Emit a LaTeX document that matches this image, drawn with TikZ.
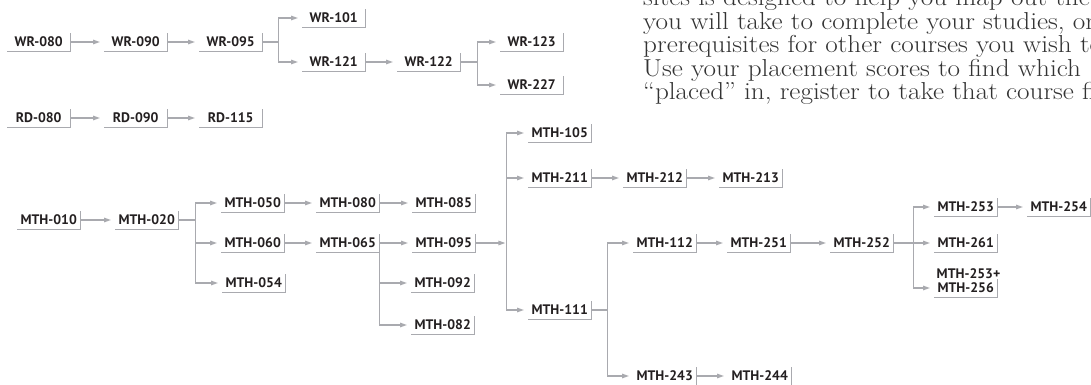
\documentclass[tikz,border=0pt]{standalone}
\usepackage{fontspec}
\setsansfont{PT Sans}
\usetikzlibrary{arrows.meta,calc}
\definecolor{rule}{HTML}{A9AAAF}
\definecolor{ink}{HTML}{231F20}
\definecolor{prose}{HTML}{333333}
\tikzset{
  coursefont/.style={font=\sffamily\bfseries\fontsize{13.8}{14}\selectfont, text=ink},
  course/.style={coursefont, anchor=west, minimum width=63pt, minimum height=18pt,
                 inner sep=0pt, text height=9.9pt, text depth=0pt},
  link/.style={draw=rule, line width=1.3pt},
  arrow/.style={link, -{Triangle[length=7pt,width=4.5pt]}, shorten >=4pt},
  proseline/.style={anchor=base west, inner sep=0pt, text=prose, transform shape,
                    font=\fontsize{24.5}{26}\selectfont},
}
\begin{document}
\begin{tikzpicture}[x=1pt,y=-1pt]
\useasboundingbox (0,0) rectangle (1091,385);
\clip (0,0) rectangle (1091,385);

% paragraph running along the top right, set a little wide
\begin{scope}[shift={(643,0)}, xscale=1.11]
\node[proseline] (p1) at (0,6)     {sites is designed to help you map out the};
\node[proseline] (p2) at (0,29.5)  {you will take to complete your studies, or};
\node[proseline] (p3) at (0,53)    {prerequisites for other courses you wish to};
\node[proseline] (p4) at (0,76.5)  {Use your placement scores to find which};
\node[proseline] (p5) at (0,100)   {“placed” in, register to take that course first};
\end{scope}

% writing sequence
\node[course] (wr080) at (7,42)   {WR-080};
\node[course] (wr090) at (104,42) {WR-090};
\node[course] (wr095) at (199,42) {WR-095};
\node[course] (wr101) at (302,18) {WR-101};
\node[course] (wr121) at (302,62) {WR-121};
\node[course] (wr122) at (397,62) {WR-122};
\node[course] (wr123) at (500,42) {WR-123};
\node[course] (wr227) at (500,85) {WR-227};

% reading sequence
\node[course] (rd080) at (7,118)   {RD-080};
\node[course] (rd090) at (104,118) {RD-090};
\node[course] (rd115) at (199,118) {RD-115};

% math sequence
\node[course] (mth010) at (17,220)  {MTH-010};
\node[course] (mth020) at (115,220) {MTH-020};
\node[course] (mth050) at (221,203) {MTH-050};
\node[course] (mth060) at (221,243) {MTH-060};
\node[course] (mth054) at (222,283) {MTH-054};
\node[course] (mth080) at (316,203) {MTH-080};
\node[course] (mth065) at (316,243) {MTH-065};
\node[course] (mth085) at (412,203) {MTH-085};
\node[course] (mth095) at (412,243) {MTH-095};
\node[course] (mth092) at (411,283) {MTH-092};
\node[course] (mth082) at (411,325) {MTH-082};
\node[course] (mth105) at (528,133) {MTH-105};
\node[course] (mth211) at (528,178) {MTH-211};
\node[course] (mth111) at (528,310) {MTH-111};
\node[course] (mth212) at (623,178) {MTH-212};
\node[course] (mth213) at (719,178) {MTH-213};
\node[course] (mth112) at (633,243) {MTH-112};
\node[course] (mth251) at (727,243) {MTH-251};
\node[course] (mth252) at (830,243) {MTH-252};
\node[course] (mth243) at (633,376) {MTH-243};
\node[course] (mth244) at (728,376) {MTH-244};
\node[course] (mth253) at (934,207) {MTH-253};
\node[course] (mth254) at (1027,207) {MTH-254};
\node[course] (mth261) at (934,243) {MTH-261};
\node[course] (mth256) at (934,288) {MTH-256};
\node[coursefont, anchor=base west, inner sep=0pt] (mth253p)
  at ([xshift=2.5pt,yshift=14pt]mth256.base west) {MTH-253+};

% underline and right bar of every course
\foreach \n in {wr080,wr090,wr095,wr101,wr121,wr122,wr123,wr227,
                rd080,rd090,rd115,
                mth010,mth020,mth050,mth060,mth054,mth080,mth065,mth085,mth095,
                mth092,mth082,mth105,mth211,mth111,mth212,mth213,mth112,mth251,
                mth252,mth243,mth244,mth253,mth254,mth261,mth256}
  \draw[link] (\n.south west) -- (\n.south east) -- (\n.north east);

% writing connectors
\draw[arrow] (wr080.east) -- (wr090.west);
\draw[arrow] (wr090.east) -- (wr095.west);
\draw[arrow] (wr095.east) -- ++(16,0) |- (wr101.west);
\draw[arrow] (wr095.east) -- ++(16,0) |- (wr121.west);
\draw[arrow] (wr121.east) -- (wr122.west);
\draw[arrow] (wr122.east) -- ++(17,0) |- (wr123.west);
\draw[arrow] (wr122.east) -- ++(17,0) |- (wr227.west);

% reading connectors
\draw[arrow] (rd080.east) -- (rd090.west);
\draw[arrow] (rd090.east) -- (rd115.west);

% math connectors
\draw[arrow] (mth010.east) -- (mth020.west);
\draw[arrow] (mth020.east) -- ++(17,0) |- (mth050.west);
\draw[arrow] (mth020.east) -- ++(17,0) |- (mth060.west);
\draw[arrow] (mth020.east) -- ++(17,0) |- (mth054.west);
\draw[arrow] (mth050.east) -- (mth080.west);
\draw[arrow] (mth080.east) -- (mth085.west);
\draw[arrow] (mth060.east) -- (mth065.west);
\draw[arrow] (mth065.east) -- (mth095.west);
\draw[link] (mth065.south east) -- (mth065.south east |- mth082.east);
\draw[arrow] (mth065.east |- mth092.west) -- (mth092.west);
\draw[arrow] (mth065.east |- mth082.west) -- (mth082.west);

\coordinate (hub) at ($(mth095.east)+(31,0)$);
\draw[arrow, shorten >=1pt] (mth095.east) -- (hub);
\draw[link] (hub |- mth105.west) -- (hub |- mth111.west);
\draw[arrow] (hub |- mth105.west) -- (mth105.west);
\draw[arrow] (hub |- mth211.west) -- (mth211.west);
\draw[arrow] (hub |- mth111.west) -- (mth111.west);

\draw[arrow] (mth211.east) -- (mth212.west);
\draw[arrow] (mth212.east) -- (mth213.west);
\draw[arrow] (mth111.east) -- ++(16,0) |- (mth112.west);
\draw[arrow] (mth111.east) -- ++(16,0) |- (mth243.west);
\draw[arrow] (mth112.east) -- (mth251.west);
\draw[arrow] (mth251.east) -- (mth252.west);
\draw[arrow] (mth243.east) -- (mth244.west);
\draw[arrow] (mth252.east) -- ++(20,0) |- (mth253.west);
\draw[arrow] (mth252.east) -- ++(20,0) |- (mth261.west);
\draw[arrow] (mth252.east) -- ++(20,0) |- (mth256.west);
\draw[arrow] (mth253.east) -- (mth254.west);
\end{tikzpicture}
\end{document}
